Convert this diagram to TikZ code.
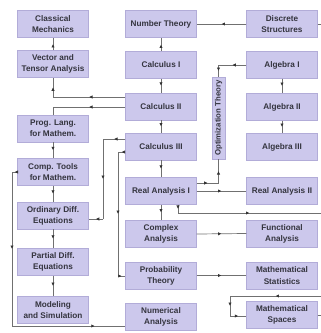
\documentclass[tikz,border=0pt]{standalone}
\usepackage{fontspec}
\newfontfamily\coursefont{Liberation Sans}
\usetikzlibrary{arrows.meta, decorations.markings, calc}
\definecolor{boxfill}{RGB}{204,200,236}
\definecolor{boxline}{RGB}{178,172,216}
\definecolor{linegray}{RGB}{112,112,112}
\definecolor{textgray}{RGB}{52,52,62}

\begin{document}
\begin{tikzpicture}[x=1pt, y=-1pt,
    course/.style={draw=boxline, fill=boxfill, minimum width=71, minimum height=27, inner sep=1pt, align=center, text=textgray, font=\coursefont\bfseries\fontsize{8.2}{11.2}\selectfont},
    link/.style={draw=linegray, line width=0.7pt},
    flow/.style={link, postaction={decorate}, decoration={markings, mark=at position #1 with {\arrow[black!80]{Latex[length=3.4pt,width=3.4pt]}}}},
    flow/.default=0.5]
    \useasboundingbox (0,0) rectangle (321,333);
    \node[course] (classical) at (53,24) {Classical\\Mechanics};
    \node[course] (vector) at (53,64) {Vector and\\Tensor Analysis};
    \node[course] (prog) at (53,128.5) {Prog. Lang.\\for Mathem.};
    \node[course] (comp) at (53,172) {Comp. Tools\\for Mathem.};
    \node[course] (ode) at (53,215.5) {Ordinary Diff.\\Equations};
    \node[course] (pde) at (53,262) {Partial Diff.\\Equations};
    \node[course] (model) at (53,310) {Modeling\\and Simulation};
    \node[course] (number) at (161,24) {Number Theory};
    \node[course] (calcI) at (161,65) {Calculus I};
    \node[course] (calcII) at (161,106.5) {Calculus II};
    \node[course] (calcIII) at (161,146.5) {Calculus III};
    \node[course] (realI) at (161,191) {Real Analysis I};
    \node[course] (complex) at (161,234) {Complex\\Analysis};
    \node[course] (prob) at (161,275.5) {Probability\\Theory};
    \node[course] (numerical) at (161,316.5) {Numerical\\Analysis};
    \node[course] (discrete) at (282,24) {Discrete\\Structures};
    \node[course] (algI) at (282,65) {Algebra I};
    \node[course] (algII) at (282,107) {Algebra II};
    \node[course] (algIII) at (282,147) {Algebra III};
    \node[course] (realII) at (282,191) {Real Analysis II};
    \node[course] (functional) at (282,233.5) {Functional\\Analysis};
    \node[course] (stats) at (282,275.5) {Mathematical\\Statistics};
    \node[course] (spaces) at (282,315) {Mathematical\\Spaces};
    \node[course, rotate=90, minimum width=82, minimum height=13, inner sep=0pt, font=\coursefont\bfseries\fontsize{7.8}{9}\selectfont] (optim) at (218.5,118) {Optimization Theory};

    \coordinate (cv) at (53,97);
    \coordinate (cp) at (53,107);
    \coordinate (ct) at (12,172);
    \coordinate (cb) at (12,326);
    \coordinate (d1) at (103,139);
    \coordinate (d2) at (103,219);
    \coordinate (e1) at (118,152);
    \coordinate (e2) at (118,276);
    \coordinate (f1) at (218.5,65);
    \coordinate (g1) at (218.5,183);
    \coordinate (h1) at (178,213);
    \coordinate (hout) at (321,213);
    \coordinate (dout) at (321,24);
    \coordinate (k0) at (321,296);
    \coordinate (k1) at (230,296);
    \coordinate (k2) at (230,316);
    \coordinate (kout) at (321,315);

    \draw[flow] (vector.north) -- (classical.south);
    \draw[flow] (calcII.west |- cv) -- (cv);
    \draw[flow] (cv) -- (vector.south);
    \draw[flow] (calcII.west |- cp) -- (cp);
    \draw[link] (cp) -- (prog.north);
    \draw[flow] (prog.south) -- (comp.north);
    \draw[flow] (comp.south) -- (ode.north);
    \draw[flow] (ode.south) -- (pde.north);
    \draw[flow] (pde.south) -- (model.north);
    \draw[flow] (comp.west) -- (ct);
    \draw[flow] (ct) -- (cb);
    \draw[flow=0.73] (cb) -- (numerical.west |- cb);
    \draw[flow] (calcIII.west |- d1) -- (d1);
    \draw[flow] (d1) -- (d2);
    \draw[flow] (d2) -- (ode.east |- d2);
    \draw[flow] (calcIII.west |- e1) -- (e1);
    \draw[flow] (e1) -- (e2);
    \draw[flow] (e2) -- (prob.west |- e2);
    \draw[flow] (calcI.north) -- (number.south);
    \draw[flow] (calcI.south) -- (calcII.north);
    \draw[flow] (calcII.south) -- (calcIII.north);
    \draw[flow] (calcIII.south) -- (realI.north);
    \draw[flow] (realI.south) -- (complex.north);
    \draw[flow] (discrete.west) -- (number.east);
    \draw[link] (discrete.east) -- (dout);
    \draw[flow] (algI.west) -- (f1);
    \draw[flow] (f1) -- (optim.east);
    \draw[flow] (algI.south) -- (algII.north);
    \draw[flow] (algII.south) -- (algIII.north);
    \draw[flow] (realI.east |- g1) -- (g1);
    \draw[flow] (g1) -- (optim.west);
    \draw[flow] (realI.east) -- (realII.west);
    \draw[flow] (realI.south -| h1) -- (h1);
    \draw[flow] (h1) -- (hout);
    \draw[flow] (complex.east) -- (functional.west);
    \draw[flow] (prob.east) -- (stats.west);
    \draw[flow] (k0) -- (k1);
    \draw[flow] (k1) -- (k2);
    \draw[flow] (k2) -- (spaces.west |- k2);
    \draw[link] (spaces.east) -- (kout);
\end{tikzpicture}
\end{document}
